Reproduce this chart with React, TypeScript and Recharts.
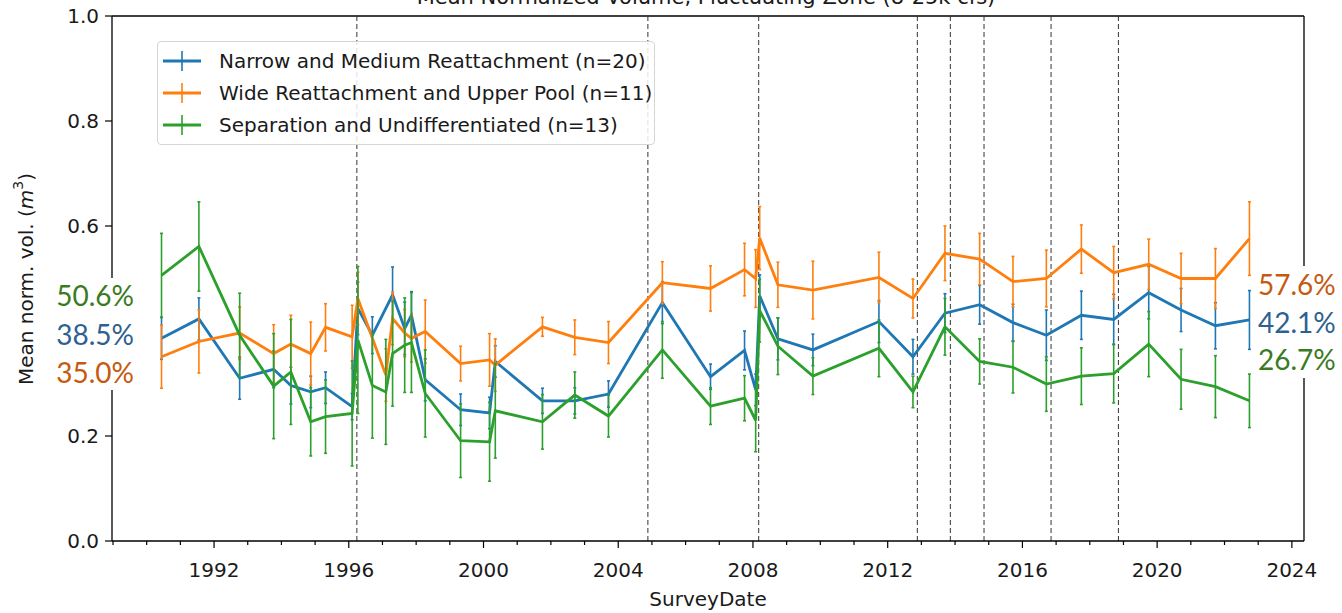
import { LineChart, Line, XAxis, YAxis, ErrorBar, ReferenceLine } from "recharts";

// survey dates as decimal years
const surveyDates = [
  1990.44, 1991.55, 1992.76, 1993.77, 1994.28, 1994.87, 1995.31, 1996.1, 1996.27, 1996.7,
  1997.1, 1997.3, 1997.66, 1997.86, 1998.27, 1999.32, 2000.18, 2000.35, 2001.75, 2002.71,
  2003.71, 2005.31, 2006.74, 2007.75, 2008.08, 2008.2, 2008.74, 2009.78, 2011.74, 2012.75,
  2013.7, 2014.73, 2015.72, 2016.71, 2017.75, 2018.71, 2019.75, 2020.71, 2021.73, 2022.74,
];

const narrowMean = [
  0.386, 0.423, 0.31, 0.327, 0.296, 0.284, 0.292, 0.256, 0.443, 0.392,
  null, 0.469, 0.405, 0.43, 0.307, 0.25, 0.244, 0.342, 0.267, 0.267,
  0.28, 0.454, 0.313, 0.363, 0.288, 0.467, 0.385, 0.364, 0.418, 0.351,
  0.434, 0.45, 0.416, 0.392, 0.43, 0.422, 0.473, 0.44, 0.41, 0.421,
];
const narrowErr = [
  0.04, 0.04, 0.04, 0.035, 0.035, 0.03, 0.03, 0.025, 0.05, 0.035,
  null, 0.053, 0.05, 0.045, 0.04, 0.03, 0.03, 0.03, 0.024, 0.025,
  0.025, 0.04, 0.024, 0.037, 0.03, 0.04, 0.04, 0.03, 0.04, 0.033,
  0.037, 0.037, 0.035, 0.048, 0.046, 0.048, 0.05, 0.041, 0.044, 0.056,
];

const wideMean = [
  0.351, 0.38, 0.396, 0.357, 0.375, 0.357, 0.407, 0.389, 0.462, null,
  0.316, 0.424, 0.396, 0.386, 0.399, 0.338, 0.345, 0.335, 0.408, 0.388,
  0.378, 0.492, 0.481, 0.517, 0.5, 0.577, 0.488, 0.478, 0.502, 0.462,
  0.548, 0.537, 0.494, 0.5, 0.556, 0.511, 0.527, 0.5, 0.5, 0.576,
];
const wideErr = [
  0.06, 0.06, 0.05, 0.055, 0.055, 0.06, 0.045, 0.06, 0.05, null,
  0.05, 0.05, 0.045, 0.045, 0.06, 0.033, 0.05, 0.05, 0.018, 0.033,
  0.04, 0.04, 0.043, 0.05, 0.055, 0.06, 0.043, 0.055, 0.048, 0.037,
  0.052, 0.049, 0.048, 0.054, 0.046, 0.05, 0.048, 0.048, 0.057, 0.07,
];

const sepMean = [
  0.506, 0.561, 0.392, 0.295, 0.322, 0.227, 0.237, 0.243, 0.383, 0.296,
  0.284, 0.357, 0.373, 0.378, 0.281, 0.191, 0.189, 0.248, 0.227, 0.278,
  0.238, 0.364, 0.257, 0.272, 0.23, 0.439, 0.371, 0.314, 0.367, 0.284,
  0.408, 0.342, 0.331, 0.299, 0.314, 0.319, 0.375, 0.308, 0.294, 0.267,
];
const sepErr = [
  0.08, 0.085, 0.08, 0.1, 0.1, 0.065, 0.07, 0.1, 0.14, 0.1,
  0.1, 0.1, 0.09, 0.095, 0.083, 0.07, 0.075, 0.09, 0.052, 0.044,
  0.04, 0.054, 0.035, 0.043, 0.06, 0.06, 0.054, 0.035, 0.054, 0.03,
  0.054, 0.043, 0.049, 0.052, 0.054, 0.056, 0.062, 0.057, 0.059, 0.051,
];

// high flow experiments (dashed lines)
const hfeDates = [1996.24, 2004.88, 2008.17, 2012.88, 2013.86, 2014.86, 2016.85, 2018.85];

const yearTicks = [
  1989, 1990, 1991, 1992, 1993, 1994, 1995, 1996, 1997, 1998, 1999, 2000,
  2001, 2002, 2003, 2004, 2005, 2006, 2007, 2008, 2009, 2010, 2011, 2012,
  2013, 2014, 2015, 2016, 2017, 2018, 2019, 2020, 2021, 2022, 2023, 2024,
];
const labelledYears = [1992, 1996, 2000, 2004, 2008, 2012, 2016, 2020, 2024];
const yTicks = [0, 0.2, 0.4, 0.6, 0.8, 1.0];
// 0.4 sits behind the percentage boxes in the original
const hiddenYLabels = [0.4];

const seriesNames = [
  "Narrow and Medium Reattachment (n=20)",
  "Wide Reattachment and Upper Pool (n=11)",
  "Separation and Undifferentiated (n=13)",
];
const seriesColors = ["#1f77b4", "#ff7f0e", "#2ca02c"];
const startPct = ["50.6%", "38.5%", "35.0%"];
const endPct = ["57.6%", "42.1%", "26.7%"];
const pctColors = ["#3a7b22", "#2f6190", "#c55a11"];
const endPctColors = ["#c55a11", "#2f6190", "#3a7b22"];

const X_DOMAIN = [1988.97, 2024.36];
const FONT = "'DejaVu Sans', sans-serif";

function rows(means: (number | null)[], errs: (number | null)[]) {
  return surveyDates.flatMap((d, i) =>
    means[i] == null ? [] : [{ date: d, value: means[i], err: errs[i] }]
  );
}

const narrowRows = rows(narrowMean, narrowErr);
const wideRows = rows(wideMean, wideErr);
const sepRows = rows(sepMean, sepErr);

function YearTick(props: any) {
  const { x, y, payload } = props;
  const major = labelledYears.includes(payload.value);
  return (
    <g>
      <line x1={x} x2={x} y1={y} y2={y + (major ? 7 : 4)} stroke="#000" strokeWidth={1.2} />
      {major && (
        <text x={x} y={y + 36} textAnchor="middle" fontSize={20} fontFamily={FONT} fill="#1a1a1a">
          {payload.value}
        </text>
      )}
    </g>
  );
}

function YLabel() {
  return (
    <text
      transform="translate(26,279) rotate(-90)"
      textAnchor="middle"
      dominantBaseline="central"
      fontSize={20}
      fontFamily={FONT}
      fill="#1a1a1a"
    >
      Mean norm. vol. (<tspan fontStyle="italic">m</tspan>
      <tspan fontSize={14} dy={-8}>3</tspan>
      <tspan dy={8}>)</tspan>
    </text>
  );
}

function XLabel() {
  return (
    <text x={708} y={606} textAnchor="middle" fontSize={20} fontFamily={FONT} fill="#1a1a1a">
      SurveyDate
    </text>
  );
}

export default function App() {
  const series = [narrowRows, wideRows, sepRows];
  return (
    <div style={{ position: "absolute", left: 0, top: 0, width: 1342, height: 613, background: "#fff" }}>
      <LineChart width={1342} height={613} data={narrowRows} margin={{ top: 16, right: 38, bottom: 0, left: 0 }}>
        <XAxis
          dataKey="date"
          type="number"
          domain={X_DOMAIN}
          ticks={yearTicks}
          interval={0}
          allowDataOverflow
          height={72}
          tickSize={0}
          tickMargin={0}
          tickLine={false}
          tick={<YearTick />}
          axisLine={{ stroke: "#000", strokeWidth: 1.3 }}
          label={<XLabel />}
        />
        <YAxis
          type="number"
          domain={[0, 1]}
          ticks={yTicks}
          width={112}
          tickSize={7}
          tickMargin={6}
          tickFormatter={(v: number) => (hiddenYLabels.includes(v) ? "" : v.toFixed(1))}
          tick={{ fontSize: 20, fontFamily: FONT, fill: "#1a1a1a" }}
          tickLine={{ stroke: "#000", strokeWidth: 1.2 }}
          axisLine={{ stroke: "#000", strokeWidth: 1.3 }}
          label={<YLabel />}
        />
        <ReferenceLine y={1} stroke="#000" strokeWidth={1.3} />
        <ReferenceLine x={X_DOMAIN[1]} stroke="#000" strokeWidth={1.3} />
        {hfeDates.map((d) => (
          <ReferenceLine key={d} x={d} stroke="#333" strokeWidth={1} strokeDasharray="5 3" />
        ))}
        {series.map((data, i) => (
          <Line
            key={seriesNames[i]}
            data={data}
            dataKey="value"
            name={seriesNames[i]}
            type="linear"
            stroke={seriesColors[i]}
            strokeWidth={2.8}
            dot={false}
            activeDot={false}
            isAnimationActive={false}
          >
            <ErrorBar dataKey="err" direction="y" width={1.5} stroke={seriesColors[i]} strokeWidth={1.6} />
          </Line>
        ))}
      </LineChart>

      {/* title, clipped at the top of the page */}
      <svg width={1342} height={613} style={{ position: "absolute", left: 0, top: 0, pointerEvents: "none" }}>
        <text x={706} y={4} textAnchor="middle" fontSize={21} fontFamily={FONT} fill="#1a1a1a">
          Mean Normalized Volume, Fluctuating Zone (8-25k cfs)
        </text>
        <rect x={50} y={278} width={88} height={112} fill="#fff" />
        {startPct.map((t, i) => (
          <text key={t} x={134} y={295 + i * 38.5} textAnchor="end" dominantBaseline="central" fontSize={28} fontFamily="Lato, 'Open Sans', sans-serif" fill={pctColors[i]}>
            {t}
          </text>
        ))}
        <rect x={1254} y={266} width={88} height={112} fill="#fff" />
        {endPct.map((t, i) => (
          <text key={t} x={1258} y={284 + i * 37.5} textAnchor="start" dominantBaseline="central" fontSize={28} fontFamily="Lato, 'Open Sans', sans-serif" fill={endPctColors[i]}>
            {t}
          </text>
        ))}
      </svg>

      {/* legend */}
      <div
        style={{
          position: "absolute",
          left: 157,
          top: 41,
          width: 496,
          height: 102,
          border: "1px solid #d6d6d6",
          borderRadius: 4,
          background: "rgba(255,255,255,0.85)",
          fontFamily: FONT,
          fontSize: 20,
          color: "#1a1a1a",
        }}
      >
        {seriesNames.map((name, i) => (
          <div key={name} style={{ position: "absolute", left: 0, top: 3 + i * 32, height: 32, display: "flex", alignItems: "center" }}>
            <svg width={40} height={24} style={{ marginLeft: 4 }}>
              <line x1={1} x2={39} y1={12} y2={12} stroke={seriesColors[i]} strokeWidth={2.8} />
              <line x1={20} x2={20} y1={2} y2={22} stroke={seriesColors[i]} strokeWidth={1.6} />
            </svg>
            <span style={{ marginLeft: 17, whiteSpace: "nowrap" }}>{name}</span>
          </div>
        ))}
      </div>
    </div>
  );
}
